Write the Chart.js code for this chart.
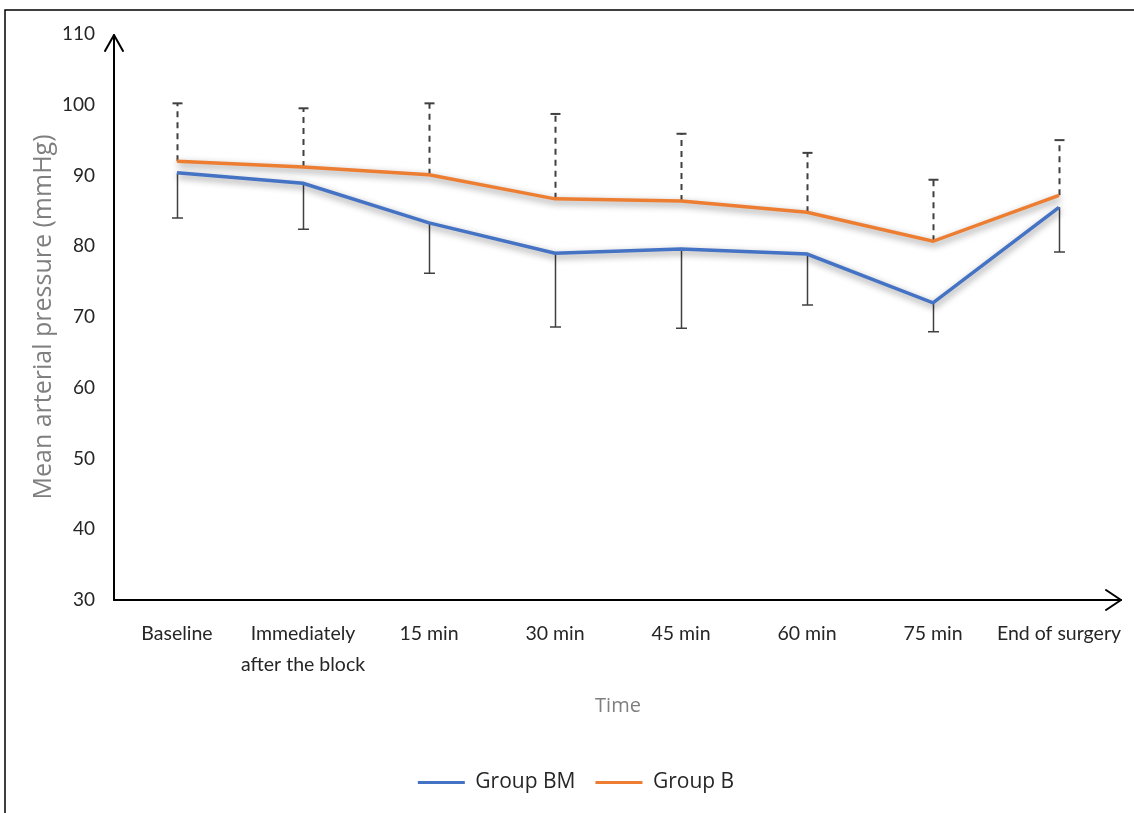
<!DOCTYPE html>
<html>
<head>
<meta charset="utf-8">
<script src="https://cdn.jsdelivr.net/npm/chart.js@4.4.1/dist/chart.umd.min.js"></script>
<style>
  html, body { margin: 0; padding: 0; background: #ffffff; }
  #wrap { width: 1134px; height: 813px; position: relative; }
</style>
</head>
<body>
<div id="wrap"><canvas id="c" width="1134" height="813"></canvas></div>
<script>
// ---- data ----
const categories = ["Baseline", ["Immediately", "after the block"], "15 min", "30 min", "45 min", "60 min", "75 min", "End of surgery"];
const groupBM = [90.4, 88.9, 83.3, 79.0, 79.6, 78.9, 72.0, 85.5];
const groupBMLower = [84.0, 82.4, 76.2, 68.6, 68.4, 71.7, 67.9, 79.2];
const groupB = [92.0, 91.2, 90.1, 86.7, 86.4, 84.8, 80.7, 87.2];
const groupBUpper = [100.2, 99.5, 100.2, 98.7, 95.9, 93.2, 89.4, 95.0];
const yTicks = [30, 40, 50, 60, 70, 80, 90, 100, 110];

const BLUE = "#4472C4";
const ORANGE = "#ED7D31";
const BAR = "#404040";

const framePlugin = {
  id: "frame",
  beforeDraw(chart) {
    const ctx = chart.ctx;
    ctx.save();
    ctx.fillStyle = "#ffffff";
    ctx.fillRect(0, 0, chart.width, chart.height);
    ctx.strokeStyle = "#000000";
    ctx.lineWidth = 1.5;
    ctx.beginPath();
    ctx.moveTo(5, chart.height);
    ctx.lineTo(5, 10);
    ctx.lineTo(chart.width, 10);
    ctx.stroke();
    ctx.restore();
  },
  afterLayout(chart) {
    if (chart.legend) { chart.legend.left += 11; chart.legend.right += 11; }
  }
};

const axesPlugin = {
  id: "arrowAxes",
  beforeDatasetsDraw(chart) {
    const ctx = chart.ctx;
    const a = chart.chartArea;
    ctx.save();
    ctx.strokeStyle = "#000000";
    ctx.lineWidth = 2;
    ctx.lineCap = "round";
    ctx.lineJoin = "round";
    ctx.beginPath();
    ctx.moveTo(a.left, a.bottom);
    ctx.lineTo(a.left, a.top + 1);
    ctx.stroke();
    ctx.beginPath();
    ctx.moveTo(a.left - 9, a.top + 17);
    ctx.lineTo(a.left, a.top + 1);
    ctx.lineTo(a.left + 9, a.top + 17);
    ctx.stroke();
    ctx.beginPath();
    ctx.moveTo(a.left, a.bottom);
    ctx.lineTo(a.right - 1, a.bottom);
    ctx.stroke();
    ctx.beginPath();
    ctx.moveTo(a.right - 16, a.bottom - 10);
    ctx.lineTo(a.right - 1, a.bottom);
    ctx.lineTo(a.right - 16, a.bottom + 10);
    ctx.stroke();
    ctx.restore();
  }
};

const errorBarPlugin = {
  id: "errorBars",
  beforeDatasetsDraw(chart) {
    const ctx = chart.ctx;
    const xs = chart.scales.x, ys = chart.scales.y;
    const cap = 5;
    ctx.save();
    ctx.strokeStyle = BAR;
    groupBM.forEach((v, i) => {
      const x = Math.round(xs.getPixelForValue(i)) + 0.5;
      const y0 = ys.getPixelForValue(v);
      const y1 = ys.getPixelForValue(groupBMLower[i]);
      ctx.setLineDash([]);
      ctx.lineWidth = 1.5;
      ctx.beginPath();
      ctx.moveTo(x, y0); ctx.lineTo(x, y1);
      ctx.moveTo(x - cap - 0.5, y1); ctx.lineTo(x + cap + 0.5, y1);
      ctx.stroke();
    });
    groupB.forEach((v, i) => {
      const x = Math.round(xs.getPixelForValue(i)) + 0.5;
      const y0 = ys.getPixelForValue(v);
      const y1 = ys.getPixelForValue(groupBUpper[i]);
      ctx.setLineDash([6, 5]);
      ctx.lineWidth = 2;
      ctx.beginPath();
      ctx.moveTo(x, y0); ctx.lineTo(x, y1);
      ctx.stroke();
      ctx.setLineDash([]);
      ctx.beginPath();
      ctx.moveTo(x - cap, y1); ctx.lineTo(x + cap, y1);
      ctx.stroke();
    });
    ctx.restore();
  }
};

const shadowPlugin = {
  id: "lineShadow",
  beforeDatasetDraw(chart) {
    const ctx = chart.ctx;
    ctx.save();
    ctx.shadowColor = "rgba(0,0,0,0.45)";
    ctx.shadowBlur = 7;
    ctx.shadowOffsetX = 1;
    ctx.shadowOffsetY = 3;
  },
  afterDatasetDraw(chart) {
    chart.ctx.restore();
  }
};

new Chart(document.getElementById("c"), {
  type: "line",
  data: {
    labels: categories,
    datasets: [
      { label: "Group BM", data: groupBM, borderColor: BLUE, backgroundColor: BLUE, borderWidth: 3.5, pointRadius: 0, tension: 0, fill: false },
      { label: "Group B", data: groupB, borderColor: ORANGE, backgroundColor: ORANGE, borderWidth: 3.5, pointRadius: 0, tension: 0, fill: false }
    ]
  },
  options: {
    responsive: false,
    animation: false,
    devicePixelRatio: 1,
    layout: { padding: { left: 8, right: 12, top: 34, bottom: 10 } },
    plugins: {
      legend: {
        position: "bottom",
        labels: {
          font: { family: "'Open Sans'", size: 21 },
          color: "#262626",
          boxWidth: 47,
          boxHeight: 3,
          padding: 20,
          generateLabels(chart) {
            return chart.data.datasets.map((d, i) => ({
              text: d.label, fillStyle: d.borderColor, strokeStyle: d.borderColor,
              lineWidth: 0, hidden: false, datasetIndex: i, fontColor: "#262626"
            }));
          }
        }
      },
      tooltip: { enabled: false }
    },
    scales: {
      x: {
        type: "category",
        offset: true,
        grid: { display: false, drawTicks: false },
        border: { display: false },
        ticks: { font: { family: "Lato", size: 19.5, lineHeight: 1.55 }, color: "#262626", padding: 19, maxRotation: 0, autoSkip: false },
        title: { display: true, text: "Time", font: { family: "'Open Sans'", size: 20 }, color: "#7f7f7f", padding: { top: 14, bottom: 34 } },
        afterFit(s) { s.height = 152; s.paddingLeft = 0; s.paddingRight = 0; }
      },
      y: {
        min: 30, max: 110,
        afterBuildTicks(s) { s.ticks = yTicks.map(v => ({ value: v })); },
        grid: { display: false, drawTicks: false },
        border: { display: false },
        ticks: { font: { family: "Lato", size: 19 }, color: "#262626", padding: 19 },
        title: { display: true, text: "Mean arterial pressure (mmHg)", font: { family: "'Open Sans'", size: 25 }, color: "#7f7f7f", padding: { top: 21, bottom: 0 } },
        afterFit(s) { s.width = 106; }
      }
    }
  },
  plugins: [framePlugin, axesPlugin, errorBarPlugin, shadowPlugin]
});
</script>
</body>
</html>
